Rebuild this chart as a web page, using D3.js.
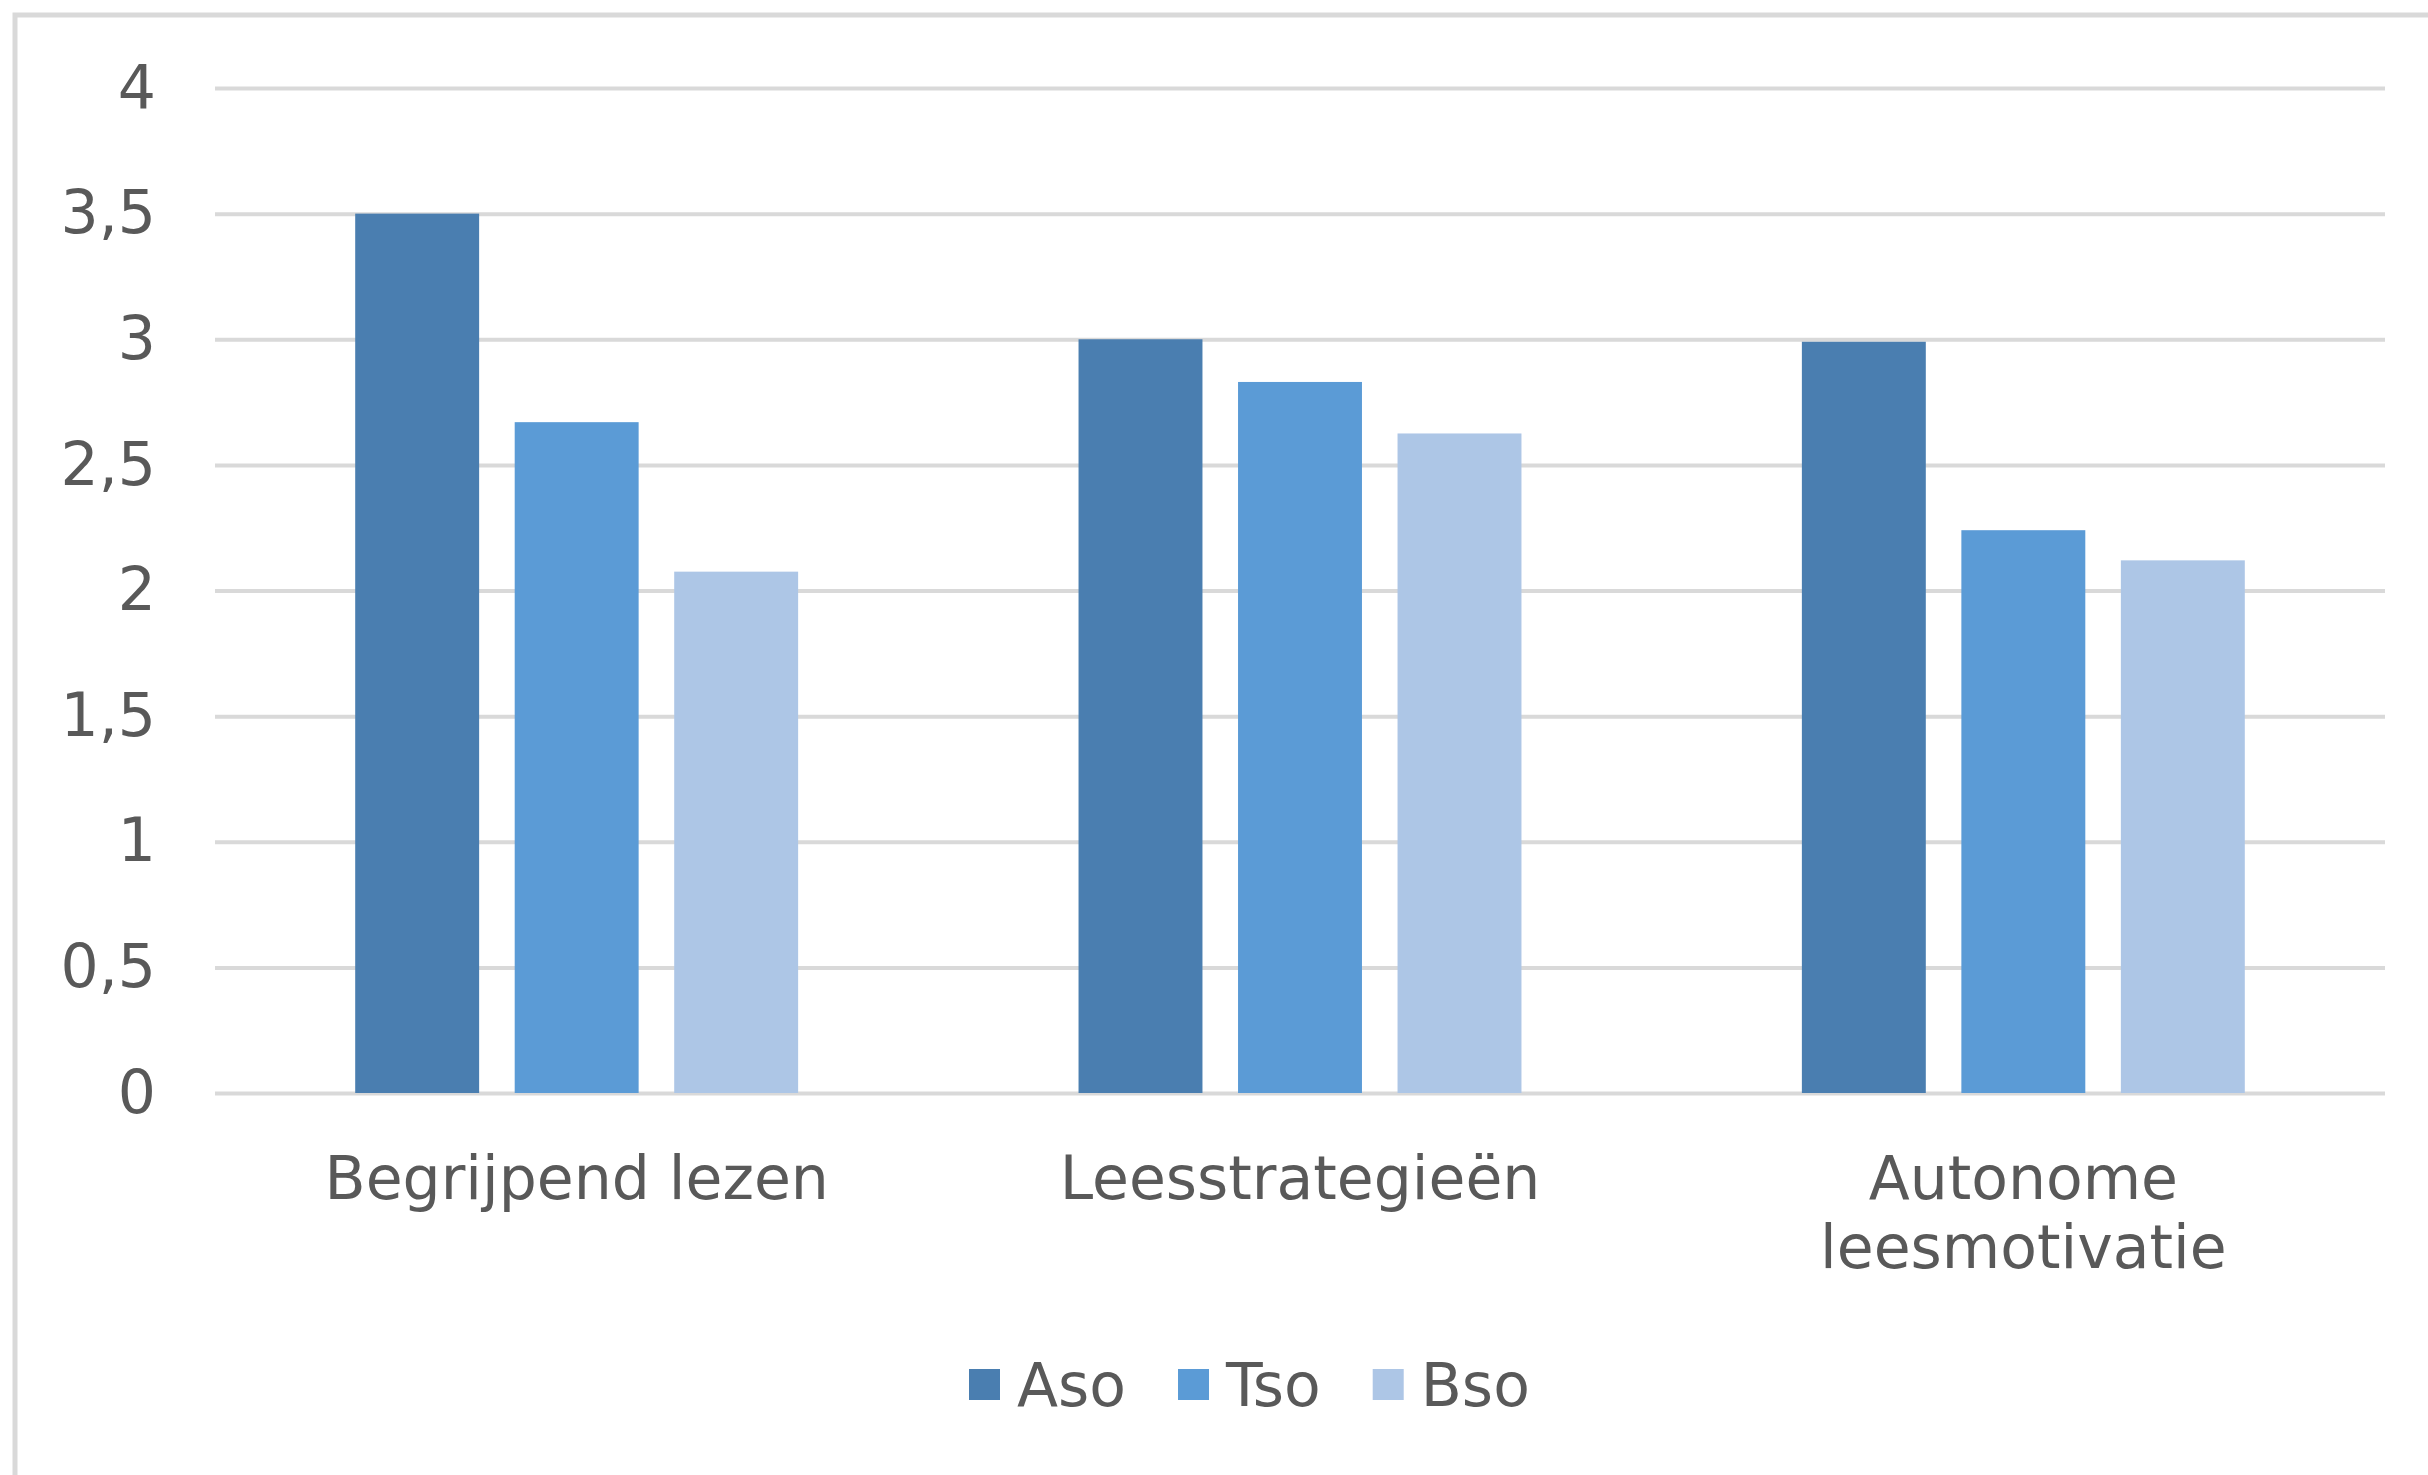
<!DOCTYPE html>
<html lang="nl">

<head>
    <meta charset="UTF-8">
    <title>Lezen per onderwijsvorm</title>
    <script src="https://d3js.org/d3.v7.min.js"></script>
    <style>
        body {
            margin: 0;
            background: #fff;
        }

        text {
            font-family: "DejaVu Sans", Verdana, sans-serif;
            font-size: 60px;
            fill: #595959;
        }

        .grid line {
            stroke: #d9d9d9;
            stroke-width: 4;
        }
    </style>
</head>

<body>
    <svg width="2428" height="1475"></svg>

    <script>
        // data
        const categories = ["Begrijpend lezen", "Leesstrategieën", "Autonome leesmotivatie"];
        const series = ["Aso", "Tso", "Bso"];
        const aso = [3.5, 3.0, 2.99];
        const tso = [2.67, 2.83, 2.24];
        const bso = [2.075, 2.625, 2.12];
        const yTicks = [0, 0.5, 1, 1.5, 2, 2.5, 3, 3.5, 4];
        const colors = ["#4a7eb0", "#5b9bd6", "#adc6e6"];

        const values = [aso, tso, bso];

        const svg = d3.select("svg");

        // outer chart frame (runs off the right and bottom edge)
        svg.append("rect")
            .attr("x", 15)
            .attr("y", 15)
            .attr("width", 2500)
            .attr("height", 1600)
            .attr("fill", "none")
            .attr("stroke", "#d9d9d9")
            .attr("stroke-width", 5);

        const plotLeft = 215, plotRight = 2385, plotTop = 88, plotBottom = 1093;

        const y = d3.scaleLinear().domain([0, 4]).range([plotBottom, plotTop]);

        const x0 = d3.scaleBand()
            .domain(categories)
            .range([plotLeft, plotRight]);

        const x1 = d3.scaleBand()
            .domain(series)
            .range([0, x0.bandwidth()])
            .paddingInner(0.223)
            .paddingOuter(0.879);

        // gridlines + tick labels
        const yAxis = d3.axisLeft(y)
            .tickValues(yTicks)
            .tickSize(-(plotRight - plotLeft))
            .tickPadding(59)
            .tickFormat(d => String(d).replace(".", ","));

        svg.append("g")
            .attr("class", "grid")
            .attr("transform", `translate(${plotLeft},0)`)
            .call(yAxis)
            .call(g => g.select(".domain").remove())
            .call(g => g.selectAll("text")
                .attr("fill", "#595959")
                .attr("font-size", 60)
                .attr("font-family", "DejaVu Sans, Verdana, sans-serif"));

        // bars
        const groups = svg.append("g")
            .selectAll("g")
            .data(categories)
            .join("g")
            .attr("transform", d => `translate(${x0(d)},0)`);

        groups.selectAll("rect")
            .data((d, i) => series.map((s, j) => ({ s: s, v: values[j][i], c: colors[j] })))
            .join("rect")
            .attr("x", d => x1(d.s))
            .attr("y", d => y(d.v))
            .attr("width", x1.bandwidth())
            .attr("height", d => y(0) - y(d.v))
            .attr("fill", d => d.c);

        // category labels, wrapped when wider than the band
        const catLabels = svg.append("g")
            .selectAll("text")
            .data(categories)
            .join("text")
            .attr("x", d => x0(d) + x0.bandwidth() / 2)
            .attr("y", 1199)
            .attr("text-anchor", "middle");

        catLabels.each(function (d) {
            const t = d3.select(this);
            const words = d.split(" ");
            let line = [];
            let tspan = t.append("tspan").attr("x", t.attr("x")).attr("dy", 0);
            words.forEach(w => {
                line.push(w);
                tspan.text(line.join(" "));
                if (tspan.node().getComputedTextLength() > x0.bandwidth() && line.length > 1) {
                    line.pop();
                    tspan.text(line.join(" "));
                    line = [w];
                    tspan = t.append("tspan").attr("x", t.attr("x")).attr("dy", 69).text(w);
                }
            });
        });

        // legend
        const legend = svg.append("g");
        let lx = 969;
        series.forEach((s, i) => {
            legend.append("rect")
                .attr("x", lx)
                .attr("y", 1369)
                .attr("width", 31)
                .attr("height", 31)
                .attr("fill", colors[i]);
            const lt = legend.append("text")
                .attr("x", lx + 48)
                .attr("y", 1406)
                .text(s);
            lx += 48 + lt.node().getComputedTextLength() + 52;
        });
    </script>
</body>

</html>
